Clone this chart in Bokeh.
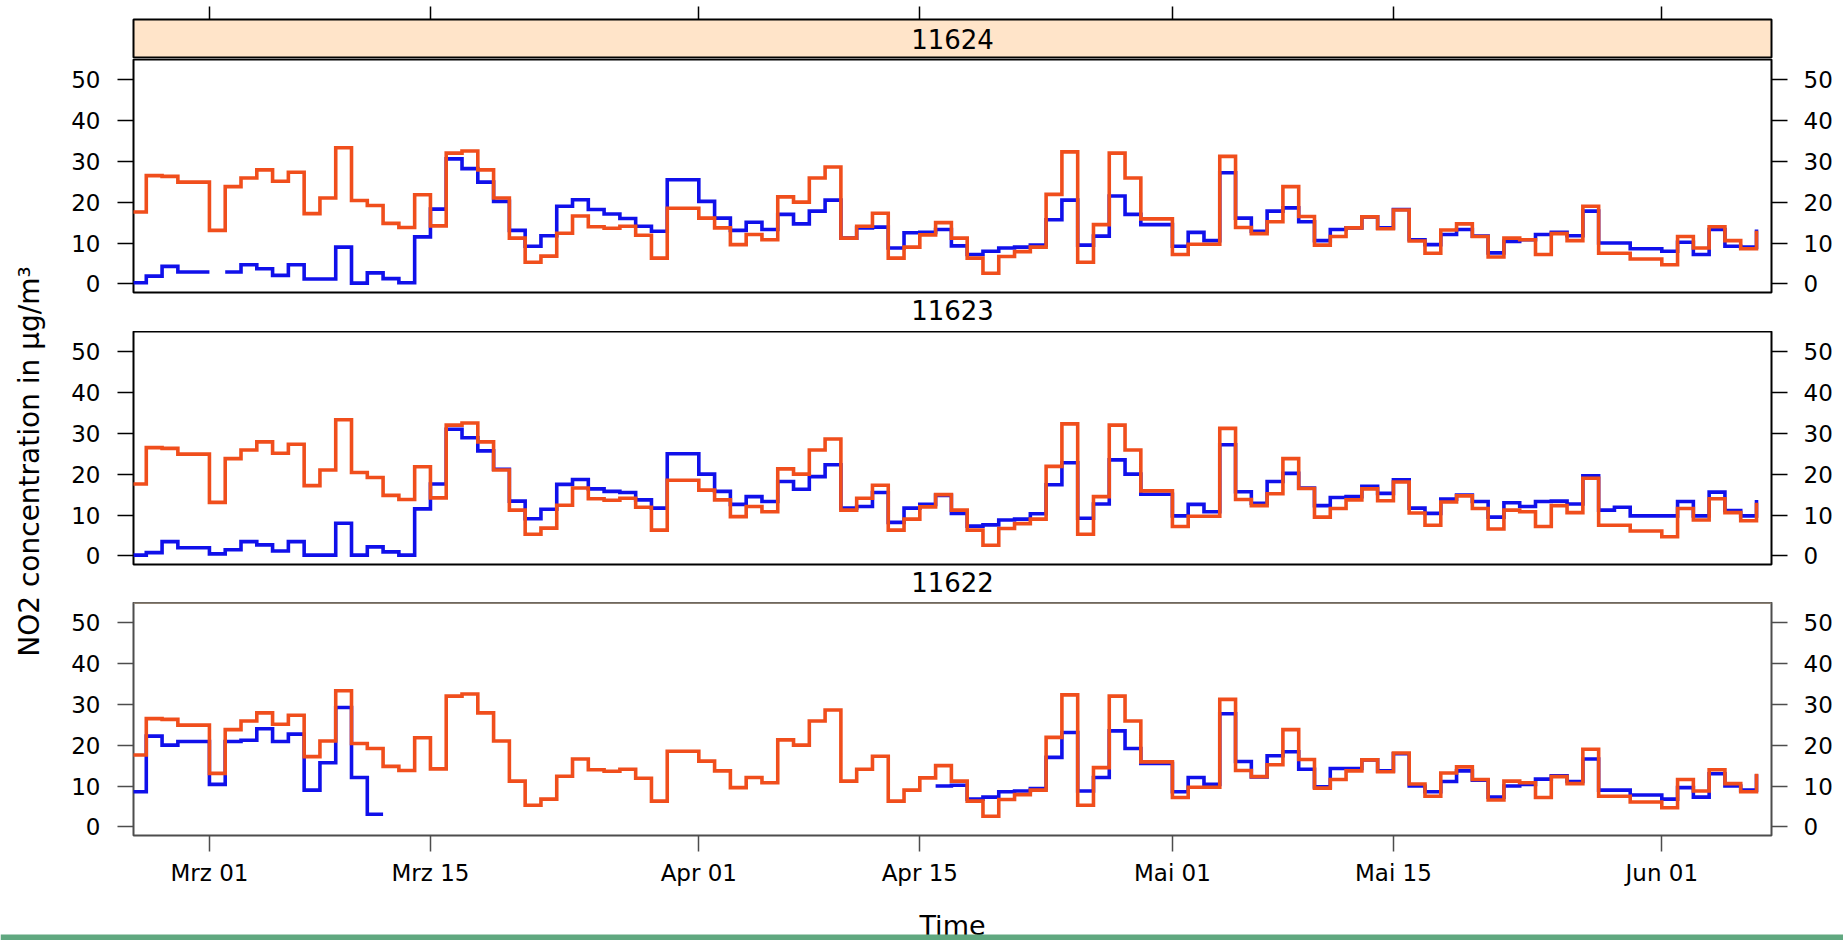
import datetime as dt
from bokeh.plotting import figure
from bokeh.models import Range1d, LinearAxis, FixedTicker, Label, Span, Title, BoxAnnotation, ColumnDataSource
from bokeh.layouts import column, row
from bokeh.embed import file_html
from bokeh.resources import INLINE

# ---------------- data (daily means, first day = 2017-02-24) ----------------
first_day = "2017-02-24"

reference_daily = [
    17.6, 26.5, 26.3, 24.9, 24.9, 13.1, 23.8, 25.9, 27.9, 25.1,
    27.3, 17.2, 21.0, 33.3, 20.4, 19.2, 14.8, 13.8, 21.8, 14.2,
    32.0, 32.5, 27.9, 21.0, 11.2, 5.3, 6.8, 12.4, 16.6, 14.0,
    13.6, 14.1, 11.9, 6.3, 18.5, 18.5, 16.1, 13.7, 9.6, 12.1,
    10.8, 21.3, 20.0, 25.9, 28.6, 11.2, 14.1, 17.3, 6.3, 9.0,
    12.0, 15.0, 11.2, 6.3, 2.6, 6.7, 7.9, 9.0, 21.9, 32.3,
    5.3, 14.5, 32.0, 25.9, 15.9, 15.9, 7.2, 9.7, 9.7, 31.2,
    13.8, 12.3, 15.2, 23.8, 16.5, 9.5, 11.6, 13.7, 16.4, 13.5,
    18.1, 10.5, 7.5, 13.2, 14.7, 11.6, 6.6, 11.2, 10.8, 7.2,
    12.3, 10.6, 19.0, 7.5, 7.5, 6.1, 6.1, 4.7, 11.6, 8.8,
    14.0, 10.6, 8.6, 13.0,
]

site_11624 = [
    0.3, 1.9, 4.3, 2.9, 2.9, None, 2.9, 4.7, 3.7, 2.1,
    4.7, 1.2, 1.2, 9.0, 0.2, 2.7, 1.3, 0.3, 11.5, 18.3,
    30.6, 28.2, 24.9, 20.2, 13.1, 9.2, 11.8, 19.0, 20.6, 18.2,
    17.1, 16.0, 14.1, 12.9, 25.5, 25.5, 20.2, 16.1, 13.1, 15.1,
    13.3, 17.0, 14.7, 17.8, 20.5, 11.2, 13.7, 13.9, 8.8, 12.5,
    12.6, 13.3, 9.3, 7.2, 8.0, 8.8, 9.0, 9.5, 15.7, 20.5,
    9.5, 11.7, 21.5, 17.0, 14.5, 14.5, 9.2, 12.6, 10.6, 27.2,
    16.1, 12.9, 17.8, 18.6, 15.2, 10.6, 13.3, 13.7, 16.4, 13.7,
    18.2, 10.8, 9.6, 12.1, 13.3, 11.7, 7.6, 10.4, 10.8, 12.1,
    12.6, 11.8, 17.8, 10.0, 10.0, 8.6, 8.6, 8.0, 10.2, 7.2,
    13.3, 9.2, 9.0, 13.3,
]

site_11623 = [
    0.2, 0.8, 3.5, 2.0, 2.0, 0.5, 1.5, 3.5, 2.7, 1.2,
    3.5, 0.2, 0.2, 8.0, 0.2, 2.2, 1.0, 0.2, 11.5, 17.6,
    31.0, 28.9, 25.7, 21.2, 13.4, 9.1, 11.4, 17.5, 18.7, 16.4,
    15.8, 15.5, 13.7, 11.7, 25.0, 25.0, 20.0, 15.8, 12.6, 14.5,
    13.3, 18.2, 16.3, 19.4, 22.3, 11.7, 12.1, 15.5, 8.2, 11.7,
    12.6, 14.8, 10.4, 7.3, 7.6, 8.8, 9.0, 10.3, 17.4, 22.8,
    9.2, 12.7, 23.5, 20.0, 15.1, 15.1, 9.8, 12.6, 10.8, 27.2,
    15.7, 12.9, 18.2, 20.2, 16.6, 12.3, 14.3, 14.5, 17.0, 15.3,
    18.6, 11.7, 10.4, 13.9, 14.9, 13.3, 9.5, 13.0, 12.1, 13.3,
    13.4, 12.7, 19.6, 11.2, 11.9, 9.8, 9.8, 9.8, 13.3, 9.8,
    15.6, 11.1, 9.8, 13.7,
]

site_11622 = [
    8.6, 22.2, 20.0, 20.9, 20.9, 10.4, 20.9, 21.2, 24.0, 20.9,
    22.7, 9.0, 15.7, 29.2, 12.1, 3.1, None, None, None, None,
    None, None, None, None, None, None, None, None, None, None,
    None, None, None, None, None, None, None, None, None, None,
    None, None, None, None, None, None, None, None, None, None,
    None, 10.0, 10.2, 6.8, 7.3, 8.6, 8.8, 9.4, 17.0, 23.1,
    8.8, 12.1, 23.5, 19.2, 15.5, 15.5, 8.6, 12.1, 10.4, 27.7,
    16.0, 12.2, 17.4, 18.4, 14.1, 9.8, 14.3, 14.3, 16.4, 13.7,
    17.9, 10.0, 8.6, 11.1, 13.7, 11.4, 7.3, 10.0, 10.4, 11.7,
    12.5, 11.1, 16.6, 9.0, 9.0, 7.8, 7.8, 6.8, 9.6, 7.3,
    13.0, 10.0, 9.0, 12.9,
]

panel_names = ["11624", "11623", "11622"]
panel_series = [site_11624, site_11623, site_11622]

tick_dates = ["2017-03-01", "2017-03-15", "2017-04-01", "2017-04-15",
              "2017-05-01", "2017-05-15", "2017-06-01"]
tick_labels = ["Mrz 01", "Mrz 15", "Apr 01", "Apr 15", "Mai 01", "Mai 15", "Jun 01"]
y_ticks = [0, 10, 20, 30, 40, 50]

# ---------------- helpers ----------------
DAY = 86400000
EPOCH = dt.datetime(1970, 1, 1)


def to_ms(s):
    return int((dt.datetime.strptime(s, "%Y-%m-%d") - EPOCH).total_seconds() * 1000)


d0 = to_ms(first_day)
day_ms = [d0 + i * DAY for i in range(len(reference_daily))]
tick_ms = [to_ms(s) for s in tick_dates]
x_start = tick_ms[0] - 4.81 * DAY
x_end = tick_ms[-1] + 6.95 * DAY
Y_LO, Y_HI = -2.1, 54.9


def step_paths(xs, ys):
    """Step lines (value held over its day), broken at missing values."""
    px, py, cx, cy = [], [], [], []
    n = len(ys)
    for i, v in enumerate(ys):
        if v is None:
            if cx:
                px.append(cx); py.append(cy); cx, cy = [], []
            continue
        cx.append(xs[i]); cy.append(v)
        if i + 1 < n:
            cx.append(xs[i + 1]); cy.append(v)
    if cx:
        px.append(cx); py.append(cy)
    return px, py


FONT = "DejaVu Sans"
YLAB_W = 68
W_COL = 1770
BL = 65
FRAME_W = 1638
BR = W_COL - BL - FRAME_W
W_TOT = 1843
ORANGE = "#f04e1c"
BLUE = "#1010ea"
LW = 3.6


def style_y_axis(ax, standoff, color="black"):
    ax.ticker = FixedTicker(ticks=y_ticks)
    ax.axis_line_color = None
    ax.major_tick_out = 16
    ax.major_tick_in = 0
    ax.major_tick_line_color = color
    ax.major_tick_line_width = 1.5
    ax.minor_tick_line_color = None
    ax.major_label_text_font = FONT
    ax.major_label_text_font_size = "23px"
    ax.major_label_text_color = "black"
    ax.major_label_standoff = standoff


def panel_fig(height, top, bottom, series, below_name=None, outline="black"):
    p = figure(width=W_COL, height=height,
               x_range=Range1d(x_start, x_end), y_range=Range1d(Y_LO, Y_HI),
               x_axis_type=None, y_axis_type=None,
               output_backend="svg", toolbar_location=None,
               min_border_left=BL, min_border_right=BR,
               min_border_top=top, min_border_bottom=bottom)
    p.outline_line_color = outline
    p.outline_line_width = 2
    p.background_fill_color = "white"
    p.border_fill_color = "white"
    la = LinearAxis(); style_y_axis(la, 17, outline)
    ra = LinearAxis(); style_y_axis(ra, 16, outline)
    p.add_layout(la, "left")
    p.add_layout(ra, "right")

    bx, by = step_paths(day_ms, series)
    p.multi_line(xs="xs", ys="ys", source=ColumnDataSource(dict(xs=bx, ys=by)),
                 line_color=BLUE, line_width=LW, line_join="miter")
    ox, oy = step_paths(day_ms, reference_daily)
    p.multi_line(xs="xs", ys="ys", source=ColumnDataSource(dict(xs=ox, ys=oy)),
                 line_color=ORANGE, line_width=LW, line_join="miter")
    if below_name is not None:
        p.add_layout(Title(text=below_name, align="center", text_font=FONT,
                           text_font_size="26px", text_font_style="normal",
                           text_color="black", standoff=11), "below")
    return p


# strip with the first panel name and the top ticks
strip = figure(width=W_COL, height=58, x_range=Range1d(x_start, x_end), y_range=Range1d(0, 1),
               x_axis_type=None, y_axis_type=None, output_backend="svg", toolbar_location=None,
               min_border_left=BL, min_border_right=BR, min_border_top=19, min_border_bottom=0)
strip.background_fill_color = "#ffe4c9"
strip.border_fill_color = "white"
strip.outline_line_color = "black"
strip.outline_line_width = 2
top_ax = LinearAxis(ticker=FixedTicker(ticks=tick_ms))
top_ax.axis_line_color = None
top_ax.major_tick_out = 13
top_ax.major_tick_in = 0
top_ax.major_tick_line_width = 1.5
top_ax.minor_tick_line_color = None
top_ax.major_label_text_font_size = "1px"
top_ax.major_label_text_color = None
top_ax.major_label_standoff = 0
strip.add_layout(top_ax, "above")
strip.add_layout(Label(x=(x_start + x_end) / 2, y=0.5, text=panel_names[0],
                       text_align="center", text_baseline="middle", text_color="black",
                       text_font=FONT, text_font_size="26px"))

p1 = panel_fig(273, 1, 39, panel_series[0], below_name=panel_names[1])
p2 = panel_fig(271, 0, 38, panel_series[1], below_name=panel_names[2])
p3 = panel_fig(291, 0, 58, panel_series[2], outline="#4d4d4d")
p3.add_layout(Span(location=Y_HI, dimension="width", line_color="#8d8274", line_width=3))

bx_ax = LinearAxis(ticker=FixedTicker(ticks=tick_ms),
                   major_label_overrides={t: l for t, l in zip(tick_ms, tick_labels)})
bx_ax.axis_line_color = None
bx_ax.major_tick_out = 16
bx_ax.major_tick_in = 0
bx_ax.major_tick_line_width = 1.5
bx_ax.major_tick_line_color = "#4d4d4d"
bx_ax.minor_tick_line_color = None
bx_ax.major_label_text_font = FONT
bx_ax.major_label_text_font_size = "23px"
bx_ax.major_label_text_color = "black"
bx_ax.major_label_standoff = 8
p3.add_layout(bx_ax, "below")

TOP_H = 58 + 273 + 271 + 291

# y-axis title
yfig = figure(width=YLAB_W, height=TOP_H, x_range=Range1d(0, YLAB_W), y_range=Range1d(0, TOP_H),
              x_axis_type=None, y_axis_type=None, output_backend="svg", toolbar_location=None,
              min_border=0)
yfig.outline_line_color = None
yfig.add_layout(Label(x=29, y=TOP_H - 461, text="NO2 concentration in µg/m³",
                      angle=90, angle_units="deg", text_align="center", text_baseline="middle",
                      text_color="black", text_font=FONT, text_font_size="28px"))

# x-axis title and the green rule along the bottom of the page
B_H = 47
bfig = figure(width=W_TOT, height=B_H, x_range=Range1d(0, W_TOT), y_range=Range1d(0, B_H),
              x_axis_type=None, y_axis_type=None, output_backend="svg", toolbar_location=None,
              min_border=0)
bfig.outline_line_color = None
bfig.add_layout(Label(x=YLAB_W + BL + FRAME_W / 2, y=15, text="Time", text_align="center",
                      text_baseline="alphabetic", text_color="black",
                      text_font=FONT, text_font_size="27px"))
bfig.add_layout(BoxAnnotation(bottom=0, top=6, fill_color="#60a880", fill_alpha=1.0,
                              line_color=None, level="overlay"))

layout = column(row(yfig, column(strip, p1, p2, p3)), bfig)

open("out.html", "w").write(file_html(layout, INLINE))
